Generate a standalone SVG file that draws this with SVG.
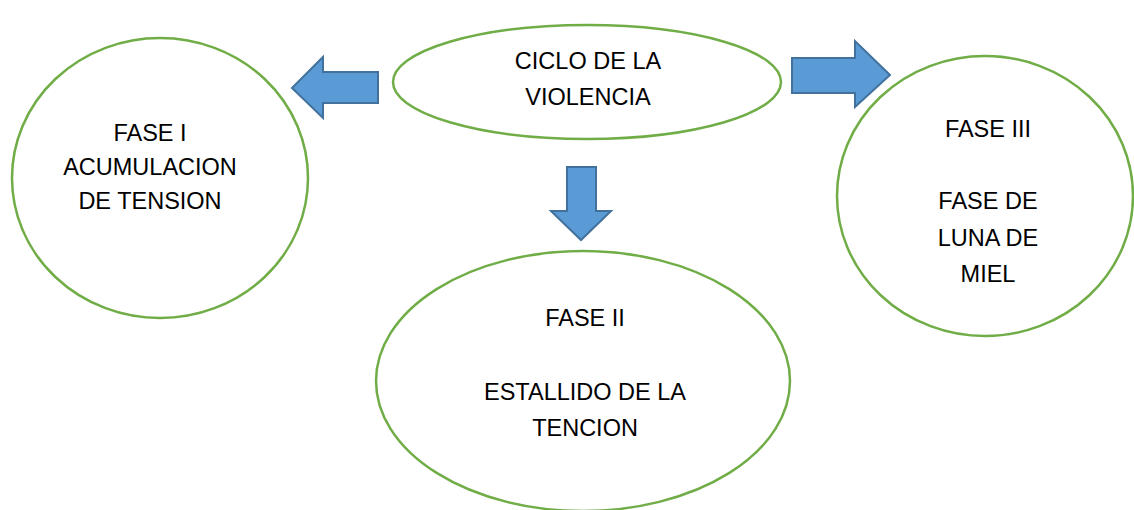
<svg xmlns="http://www.w3.org/2000/svg" width="1134" height="510" viewBox="0 0 1134 510">
<style>
.node{fill:#ffffff;stroke:#70AD47;stroke-width:2.5}
.arrow{fill:#5B9BD5;stroke:#41719C;stroke-width:2}
.t{font-family:"Liberation Sans",Arial,sans-serif;font-size:23.5px;fill:#000000;text-anchor:middle}
</style>
<rect width="1134" height="510" fill="#ffffff"/>
<g id="ciclo">
<ellipse class="node" cx="587" cy="82" rx="194" ry="57"/>
<text class="t" x="588" y="69">CICLO DE LA</text>
<text class="t" x="588" y="105">VIOLENCIA</text>
</g>
<g id="fase1">
<ellipse class="node" cx="160" cy="178" rx="148" ry="140"/>
<text class="t" x="150" y="141">FASE I</text>
<text class="t" x="150" y="175">ACUMULACION</text>
<text class="t" x="150" y="209">DE TENSION</text>
</g>
<g id="fase3">
<ellipse class="node" cx="985" cy="196" rx="148" ry="140"/>
<text class="t" x="988" y="137">FASE III</text>
<text class="t" x="988" y="209">FASE DE</text>
<text class="t" x="988" y="246">LUNA DE</text>
<text class="t" x="988" y="282">MIEL</text>
</g>
<g id="fase2">
<ellipse class="node" cx="583" cy="381" rx="207" ry="130"/>
<text class="t" x="585" y="326">FASE II</text>
<text class="t" x="585" y="400">ESTALLIDO DE LA</text>
<text class="t" x="585" y="436">TENCION</text>
</g>
<g id="connectors">
<polygon class="arrow" points="378,72 323,72 323,57 292,88 323,118 323,103 378,103"/>
<polygon class="arrow" points="792,58 855,58 855,41 890,75 855,107 855,93 792,93"/>
<polygon class="arrow" points="567,167 596,167 596,211 611,211 581,240 551,211 567,211"/>
</g>
</svg>
